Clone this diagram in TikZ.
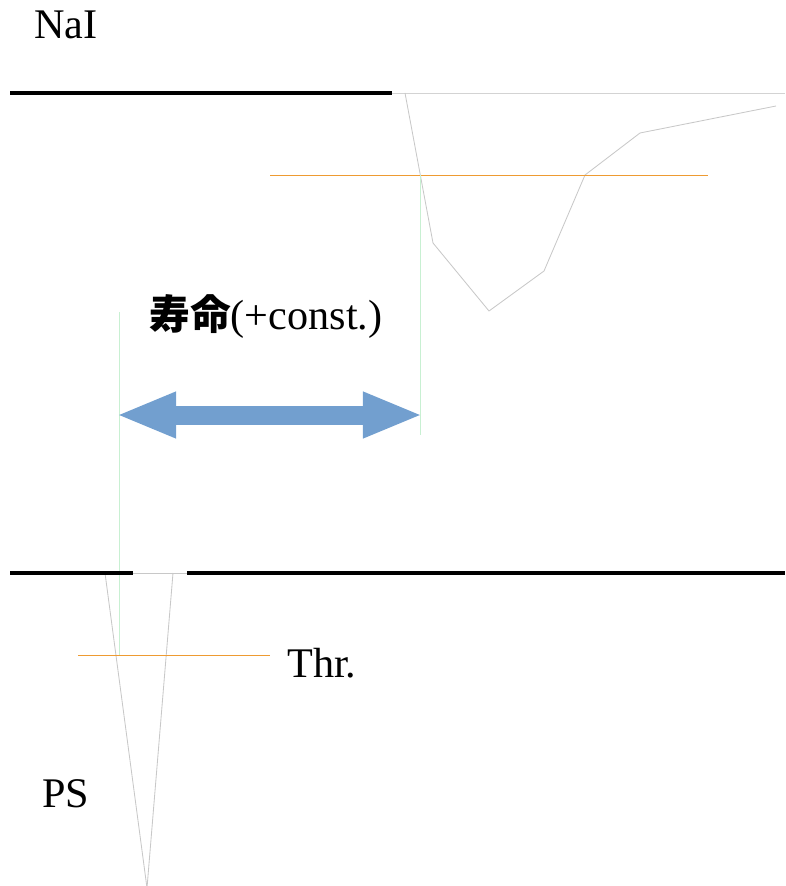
\documentclass[tikz,border=0pt]{standalone}
\usepackage{fontspec}
\setmainfont{Liberation Serif}
\newfontfamily\jpfont{Noto Sans CJK JP}
\usepackage{xcolor}
\usepackage{tikz}
\usetikzlibrary{arrows.meta, positioning}

\definecolor{lifeblue}{RGB}{114,159,207}
\definecolor{throrange}{RGB}{238,155,50}
\definecolor{markgreen}{RGB}{200,240,210}
\definecolor{wavegray}{RGB}{200,200,200}

\begin{document}
\begin{tikzpicture}[
    x=0.025cm, y=-0.025cm,
    tag/.style={
        anchor=base west,
        inner sep=0pt,
        font=\fontsize{30}{35}\selectfont
    },
    groundline/.style={
        draw=black,
        line width=0.1cm
    },
    wave/.style={
        draw=wavegray,
        line width=0.6pt,
        line join=round
    },
    thrline/.style={
        draw=throrange,
        line width=0.7pt
    },
    timemark/.style={
        draw=markgreen,
        line width=0.6pt
    },
    life/.style={
        draw=lifeblue,
        line width=0.475cm,
        shorten <=-0.075cm, shorten >=-0.075cm,
        {Triangle[length=1.5cm, width=1.05cm]}-{Triangle[length=1.5cm, width=1.05cm]}
    }
]
\useasboundingbox (0,0) rectangle (785,886);

% Labels
\node [tag] (nai) at (34,39) {NaI};
\node [tag] (ps) at (42,807) {PS};
\node [tag] (thrlabel) at (287,677) {Thr.};
\node [tag] (lifetime) at (149,329) {{\jpfont\bfseries\fontsize{29}{34}\selectfont 寿命}(+const.)};

% Coordinates
\coordinate (naiL) at (10,93);
\coordinate (naiM) at (392,93);
\coordinate (naiR) at (785,93);
\coordinate (psL) at (10,573);
\coordinate (psA) at (133,573);
\coordinate (psB) at (187,573);
\coordinate (psR) at (785,573);
\coordinate (stopL) at (119,415);
\coordinate (stopR) at (420,415);

% Waveforms
\draw [wave, draw=wavegray!80] (naiM) -- (naiR);
\draw [wave] (405,93) -- (433,243) -- (489,311) -- (544,271) -- (585,175) -- (640,133) -- (776,106);
\draw [wave] (psA) -- (psB);
\draw [wave] (105,573) -- (147,888) -- (173,573);

% Thresholds and timing marks
\draw [thrline] (270,175) -- (708,175);
\draw [thrline] (78,655) -- (270,655);
\draw [timemark] (119,312) -- (119,655);
\draw [timemark] (420,175) -- (420,435);

% Baselines
\draw [groundline] (naiL) -- (naiM);
\draw [groundline] (psL) -- (psA);
\draw [groundline] (psB) -- (psR);

% Lifetime
\draw [life] (stopL) -- (stopR);

\end{tikzpicture}
\end{document}
